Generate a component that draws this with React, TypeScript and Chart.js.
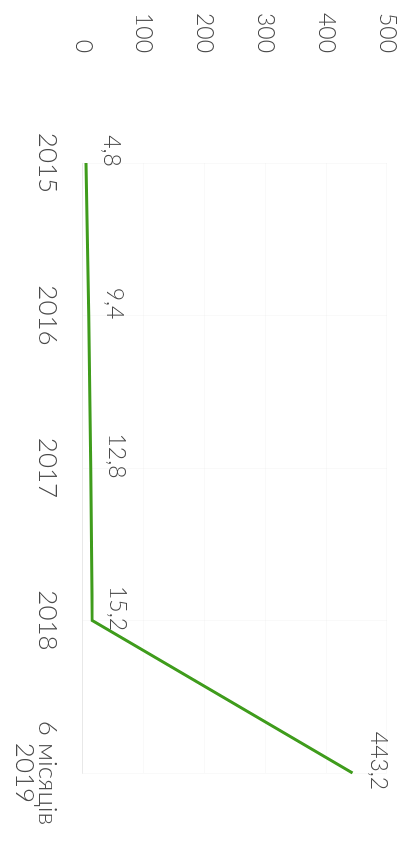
import React, { useEffect, useRef } from "react";
import { Chart, registerables } from "chart.js";

Chart.register(...registerables);

const categories: (string | string[])[] = ["2015", "2016", "2017", "2018", ["6 місяців", "2019"]];
const values: number[] = [4.8, 9.4, 12.8, 15.2, 443.2];
const yTickValues: number[] = [0, 100, 200, 300, 400, 500];

const FONT = "Lato, 'Open Sans', 'DejaVu Sans', sans-serif";
const TEXT = "#4a4a4a";
const GREEN = "#3f9c1c";

const valueLabels = {
  id: "valueLabels",
  afterDatasetsDraw(chart: any) {
    const ctx = chart.ctx;
    const meta = chart.getDatasetMeta(0);
    ctx.save();
    ctx.font = `300 23px ${FONT}`;
    ctx.fillStyle = TEXT;
    ctx.textAlign = "center";
    ctx.textBaseline = "bottom";
    meta.data.forEach((pt: any, i: number) => {
      const txt = String(values[i]).replace(".", ",");
      ctx.fillText(txt, pt.x - 12, pt.y - 14);
    });
    ctx.restore();
  },
};

export default function App() {
  const ref = useRef<HTMLCanvasElement | null>(null);

  useEffect(() => {
    document.body.style.margin = "0";
    const canvas = ref.current;
    if (!canvas) return;
    const chart = new Chart(canvas, {
      type: "line",
      data: {
        labels: categories as any,
        datasets: [
          {
            data: values,
            borderColor: GREEN,
            borderWidth: 3,
            pointRadius: 0,
            fill: false,
            tension: 0,
          },
        ],
      },
      options: {
        animation: false,
        responsive: false,
        maintainAspectRatio: false,
        layout: { padding: { left: 0, right: 70, top: 20, bottom: 0 } },
        plugins: {
          legend: { display: false },
          tooltip: { enabled: false },
        },
        scales: {
          x: {
            offset: false,
            grid: { color: "rgba(0,0,0,0.025)", drawTicks: false },
            border: { display: true, color: "rgba(0,0,0,0.07)" },
            ticks: {
              color: TEXT,
              font: { family: FONT, size: 26, weight: "300" as any, lineHeight: 0.88 },
              padding: 24,
              maxRotation: 0,
              minRotation: 0,
              autoSkip: false,
            },
            afterFit: (s: any) => {
              s.height = 83;
              s.paddingLeft = 0;
              s.paddingRight = 0;
            },
          },
          y: {
            min: 0,
            max: 500,
            afterBuildTicks: (s: any) => {
              s.ticks = yTickValues.map((v) => ({ value: v }));
            },
            grid: { color: "rgba(0,0,0,0.025)", drawTicks: false },
            border: { display: false },
            ticks: {
              color: TEXT,
              font: { family: FONT, size: 23, weight: "300" as any },
              padding: 110,
            },
            afterFit: (s: any) => {
              s.width = 163;
              s.paddingTop = 12;
              s.paddingBottom = 12;
            },
          },
        },
      },
      plugins: [valueLabels],
    });
    return () => chart.destroy();
  }, []);

  return (
    <div
      style={{
        position: "fixed",
        left: 0,
        top: 0,
        width: 407,
        height: 843,
        overflow: "hidden",
        background: "#fff",
      }}
    >
      <canvas
        ref={ref}
        width={843}
        height={407}
        style={{
          position: "absolute",
          left: 0,
          top: 0,
          width: 843,
          height: 407,
          transformOrigin: "0 0",
          transform: "translate(407px, 0px) rotate(90deg)",
        }}
      />
    </div>
  );
}
